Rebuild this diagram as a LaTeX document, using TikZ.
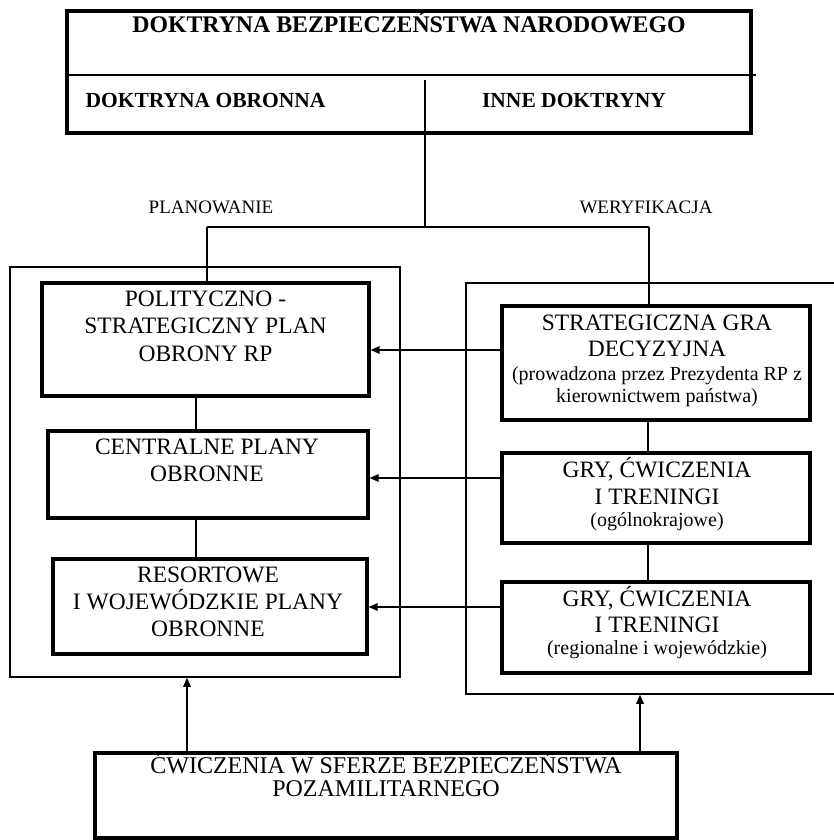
\documentclass[tikz,border=0pt]{standalone}
\usepackage{fontspec}
\setmainfont{Liberation Serif}
\usetikzlibrary{arrows.meta,calc}
\begin{document}
\begin{tikzpicture}[x=1pt,y=-1pt,
  thickbox/.style={draw, line width=3.2pt, inner sep=0pt},
  groupbox/.style={draw, line width=1.5pt, inner sep=0pt},
  conn/.style={line width=1.3pt},
  arr/.style={line width=1.3pt, -{Triangle[length=9pt,width=7.5pt]}},
  bigtxt/.style={font=\fontsize{23.5}{26.5}\selectfont, anchor=base, inner sep=0pt},
  smalltxt/.style={font=\fontsize{20}{22}\selectfont, anchor=base, inner sep=0pt},
  headtxt/.style={font=\bfseries\fontsize{23.8}{26}\selectfont, anchor=base, inner sep=0pt},
  subtxt/.style={font=\bfseries\fontsize{21.5}{24}\selectfont, anchor=base, inner sep=0pt},
  lbltxt/.style={font=\fontsize{19}{21}\selectfont, anchor=base, inner sep=0pt},
  bottxt/.style={font=\fontsize{24}{26}\selectfont, anchor=base, inner sep=0pt}
]
\useasboundingbox (0,0) rectangle (833,840);

% top box
\node[thickbox, minimum width=684, minimum height=122] (top) at (409,72) {};
\coordinate (dl) at (67,75);
\coordinate (dr) at (756,75);
\draw[line width=1.6pt] (dl) -- (dr);
\node[headtxt] (t1) at (409,33) {DOKTRYNA BEZPIECZEŃSTWA NARODOWEGO};
\node[subtxt] (t2) at (205.5,108) {DOKTRYNA OBRONNA};
\node[subtxt] (t3) at (574,108) {INNE DOKTRYNY};

% labels
\node[lbltxt] (pl) at (211,213) {PLANOWANIE};
\node[lbltxt] (wer) at (646,213) {WERYFIKACJA};

% group boxes
\node[groupbox, minimum width=390, minimum height=410] (lg) at (205,472) {};
\node[groupbox, minimum width=384, minimum height=411] (rg) at (658,488.5) {};

% left boxes
\node[thickbox, minimum width=327, minimum height=113] (pol) at (205.5,339.5) {};
\node[thickbox, minimum width=320, minimum height=87] (cen) at (208,474.5) {};
\node[thickbox, minimum width=314, minimum height=95] (res) at (210,606.5) {};

% right boxes
\node[thickbox, minimum width=308, minimum height=114] (sgd) at (656,363) {};
\node[thickbox, minimum width=308, minimum height=90] (gry1) at (656,498) {};
\node[thickbox, minimum width=308, minimum height=91] (gry2) at (656,627.5) {};

% bottom box
\node[thickbox, minimum width=582, minimum height=85] (bot) at (386,795.5) {};

% texts in left boxes
\node[bigtxt] (p1) at (205.5,306.7) {POLITYCZNO -};
\node[bigtxt] (p2) at (205.5,333.3) {STRATEGICZNY PLAN};
\node[bigtxt] (p3) at (205.5,361.7) {OBRONY RP};
\node[bigtxt] (c1) at (207,454) {CENTRALNE PLANY};
\node[bigtxt] (c2) at (207,481.7) {OBRONNE};
\node[bigtxt] (r1) at (208,582.7) {RESORTOWE};
\node[bigtxt] (r2) at (208,609.3) {I WOJEWÓDZKIE PLANY};
\node[bigtxt] (r3) at (208,636.7) {OBRONNE};

% texts in right boxes
\node[bigtxt] (s1) at (657,330) {STRATEGICZNA GRA};
\node[bigtxt] (s2) at (657,356.7) {DECYZYJNA};
\node[smalltxt] (s3) at (657,380) {(prowadzona przez Prezydenta RP z};
\node[smalltxt] (s4) at (657,402) {kierownictwem państwa)};
\node[bigtxt] (g1) at (657,477.7) {GRY, ĆWICZENIA};
\node[bigtxt] (g2) at (657,504) {I TRENINGI};
\node[smalltxt] (g3) at (657,526) {(ogólnokrajowe)};
\node[bigtxt] (h1t) at (657,606) {GRY, ĆWICZENIA};
\node[bigtxt] (h2t) at (657,632.7) {I TRENINGI};
\node[smalltxt] (h3t) at (657,654) {(regionalne i wojewódzkie)};

% bottom text
\node[bottxt] (b1) at (386,773) {ĆWICZENIA W SFERZE BEZPIECZEŃSTWA};
\node[bottxt] (b2) at (386,796) {POZAMILITARNEGO};

% tree connectors
\coordinate (vtop) at (425,80);
\coordinate (vj) at (425,227);
\coordinate (jl) at (207,227);
\coordinate (jr) at (649,227);
\draw[conn] (vtop) -- (vj);
\draw[conn] (jl) -- (jr);
\draw[conn] (jl) -- (jl |- pol.north);
\draw[conn] (jr) -- (jr |- sgd.north);

\coordinate (lx) at (196,0);
\coordinate (rx) at (648,0);
\draw[conn] (pol.south -| lx) -- (cen.north -| lx);
\draw[conn] (cen.south -| lx) -- (res.north -| lx);
\draw[conn] (sgd.south -| rx) -- (gry1.north -| rx);
\draw[conn] (gry1.south -| rx) -- (gry2.north -| rx);

% horizontal arrows
\coordinate (ha) at (0,350);
\coordinate (hb) at (0,478);
\coordinate (hc) at (0,607);
\draw[arr] (sgd.west |- ha) -- (pol.east |- ha);
\draw[arr] (gry1.west |- hb) -- (cen.east |- hb);
\draw[arr] (gry2.west |- hc) -- (res.east |- hc);

% upward arrows
\coordinate (ua) at (187,0);
\coordinate (ub) at (640,0);
\draw[arr] (bot.north -| ua) -- (lg.south -| ua);
\draw[arr] (bot.north -| ub) -- (rg.south -| ub);
\end{tikzpicture}
\end{document}
